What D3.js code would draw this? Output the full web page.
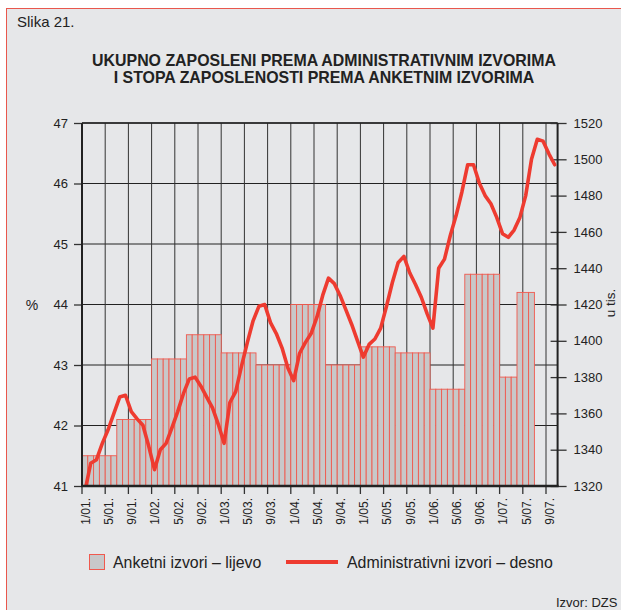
<!DOCTYPE html>
<html><head><meta charset="utf-8">
<script src="https://cdn.jsdelivr.net/npm/d3@7"></script>
<style>body{margin:0;background:#fff}svg{display:block;font-family:"Liberation Sans",Arial,sans-serif}</style>
</head><body><svg id="c" width="621" height="610"></svg>
<script>
// ---- data ----
const months = d3.timeMonth.range(new Date(2001,0,1), new Date(2007,10,1)).map(d3.timeFormat("%Y-%m"));
const tickLabels = ["1/01.","5/01.","9/01.","1/02.","5/02.","9/02.","1/03.","5/03.","9/03.","1/04.","5/04.","9/04.","1/05.","5/05.","9/05.","1/06.","5/06.","9/06.","1/07.","5/07.","9/07."];
const leftTicks = [41,42,43,44,45,46,47];
const rightTicks = [1320,1340,1360,1380,1400,1420,1440,1460,1480,1500,1520];
const surveyStart = ["2001-01","2001-07","2002-01","2002-07","2003-01","2003-07","2004-01","2004-07","2005-01","2005-07","2006-01","2006-07","2007-01","2007-04"];
const surveyEnd   = ["2001-06","2001-12","2002-06","2002-12","2003-06","2003-12","2004-06","2004-12","2005-06","2005-12","2006-06","2006-12","2007-03","2007-06"];
const surveyValues = [41.5,42.1,43.1,43.5,43.2,43.0,44.0,43.0,43.3,43.2,42.6,44.5,42.8,44.2];
const adminValues = [
 1317,1332.5,1334.5,1343.5,1351,1360,1369,1370,1361,1357,1353.5,1342,
 1329,1340,1343.5,1352,1361,1371,1379,1380,1375,1369,1363,1354,
 1343.5,1366,1372,1386,1399,1411,1419,1420,1410,1404,1396,1385,
 1378,1393,1399,1404,1413,1425,1434.5,1431.5,1425,1417,1409,1400,
 1391,1398,1401,1407,1419,1432,1443,1446.5,1437.5,1431,1424,1415,
 1407,1440,1445,1458,1469,1482,1497,1497,1487,1480,1475.5,1468,
 1459,1457,1461,1468,1480,1500,1511,1510,1503,1497];

// ---- layout ----
const svg = d3.select("#c");
const L=82, R=557.6, T=123, B=486;
const red="#ee3b30", barRed="#f0594e", ink="#222";
const x = d3.scaleBand().domain(months).range([L,R]).padding(0);
const yL = d3.scaleLinear().domain([41,47]).range([B,T]);
const yR = d3.scaleLinear().domain([1320,1520]).range([B,T]);
const tickMonth = s => { const [m,y]=s.replace(".","").split("/"); return "20"+y+"-"+String(m).padStart(2,"0"); };

svg.append("rect").attr("x",6.5).attr("y",8.5).attr("width",700).attr("height",700)
  .attr("fill","#e6e7e9").attr("stroke","#e9574d").attr("stroke-width",1);

svg.append("text").attr("x",17).attr("y",27).attr("font-size",15).attr("fill","#222").text("Slika 21.");
const title = svg.append("text").attr("text-anchor","middle").attr("font-weight","bold").attr("font-size",15.9).attr("fill","#222");
title.append("tspan").attr("x",324).attr("y",66).text("UKUPNO ZAPOSLENI PREMA ADMINISTRATIVNIM IZVORIMA");
title.append("tspan").attr("x",324).attr("y",83).text("I STOPA ZAPOSLENOSTI PREMA ANKETNIM IZVORIMA");

// grid
svg.append("g").selectAll("line").data(leftTicks).join("line")
  .attr("x1",L).attr("x2",R).attr("y1",d=>yL(d)).attr("y2",d=>yL(d)).attr("stroke",ink).attr("stroke-width",1);
svg.append("g").selectAll("line").data(tickLabels).join("line")
  .attr("x1",d=>x(tickMonth(d))).attr("x2",d=>x(tickMonth(d))).attr("y1",T).attr("y2",B).attr("stroke","#333").attr("stroke-width",1);

// bars: one cell per month
const cells = [];
surveyStart.forEach((s,i)=>{ months.forEach(m=>{ if(m>=s && m<=surveyEnd[i]) cells.push({m, v:surveyValues[i]}); }); });
svg.append("g").selectAll("rect").data(cells).join("rect")
  .attr("x",d=>x(d.m)).attr("width",x.bandwidth()).attr("y",d=>yL(d.v)).attr("height",d=>B-yL(d.v))
  .attr("fill","#c8c8c9").attr("stroke",barRed).attr("stroke-width",0.9);

// frame and axes
svg.append("line").attr("x1",L).attr("x2",R).attr("y1",T).attr("y2",T).attr("stroke",ink).attr("stroke-width",1.5);
const gl = svg.append("g").attr("transform",`translate(${L},0)`).call(d3.axisLeft(yL).tickValues(leftTicks).tickSize(8).tickPadding(6).tickFormat(d3.format("d")));
const gr = svg.append("g").attr("transform",`translate(${R},0)`).call(d3.axisRight(yR).tickValues(rightTicks).tickSize(9).tickPadding(7).tickFormat(d3.format("d")));
gr.selectAll(".tick line").attr("x1",-7);
const gb = svg.append("g").attr("transform",`translate(0,${B})`).call(d3.axisBottom(x).tickValues(tickLabels.map(tickMonth)).tickSize(8).tickFormat((d,i)=>tickLabels[i]));
gb.selectAll(".tick").attr("transform",d=>`translate(${x(d)},0)`);
gb.selectAll(".tick text").attr("transform","rotate(-90)").attr("text-anchor","end").attr("x",-12).attr("y",3.5).attr("dy","0.35em");
[gl,gr,gb].forEach(g=>{ g.select(".domain").remove(); g.selectAll(".tick line").attr("stroke","#333").attr("stroke-width",1.3);
  g.selectAll("text").attr("font-size",13).attr("fill","#222").attr("font-family","Liberation Sans, Arial, sans-serif"); });
gb.selectAll("text").attr("font-size",12);
svg.append("line").attr("x1",L).attr("x2",L).attr("y1",T).attr("y2",B+1).attr("stroke",ink).attr("stroke-width",2);
svg.append("line").attr("x1",R).attr("x2",R).attr("y1",T).attr("y2",B+1).attr("stroke",ink).attr("stroke-width",2);

// admin line
svg.append("clipPath").attr("id","pc").append("rect").attr("x",L).attr("y",T-10).attr("width",R-L).attr("height",B-T+10);
svg.append("path").datum(adminValues).attr("clip-path","url(#pc)")
  .attr("d",d3.line().x((d,i)=>x(months[i])+x.bandwidth()/2).y(d=>yR(d)))
  .attr("fill","none").attr("stroke",red).attr("stroke-width",3.6).attr("stroke-linejoin","round").attr("stroke-linecap","round");
svg.append("line").attr("x1",L-1).attr("x2",R+1).attr("y1",B).attr("y2",B).attr("stroke",ink).attr("stroke-width",2.5);

// axis titles
svg.append("text").attr("x",32).attr("y",310).attr("text-anchor","middle").attr("font-size",14).attr("fill","#222").text("%");
svg.append("text").attr("transform","translate(615,303) rotate(-90)").attr("text-anchor","middle").attr("font-size",13.5).attr("fill","#222").text("u tis.");

// legend
svg.append("rect").attr("x",89.5).attr("y",554.5).attr("width",15).attr("height",15).attr("fill","#c8c8c9").attr("stroke",barRed).attr("stroke-width",1);
svg.append("text").attr("x",113).attr("y",567.5).attr("font-size",15.9).attr("fill","#222").text("Anketni izvori – lijevo");
svg.append("line").attr("x1",286).attr("x2",338).attr("y1",562).attr("y2",562).attr("stroke",red).attr("stroke-width",4);
svg.append("text").attr("x",347).attr("y",567.5).attr("font-size",15.9).attr("fill","#222").text("Administrativni izvori – desno");
svg.append("text").attr("x",556).attr("y",607).attr("font-size",13).attr("fill","#222").text("Izvor: DZS");
</script></body></html>
